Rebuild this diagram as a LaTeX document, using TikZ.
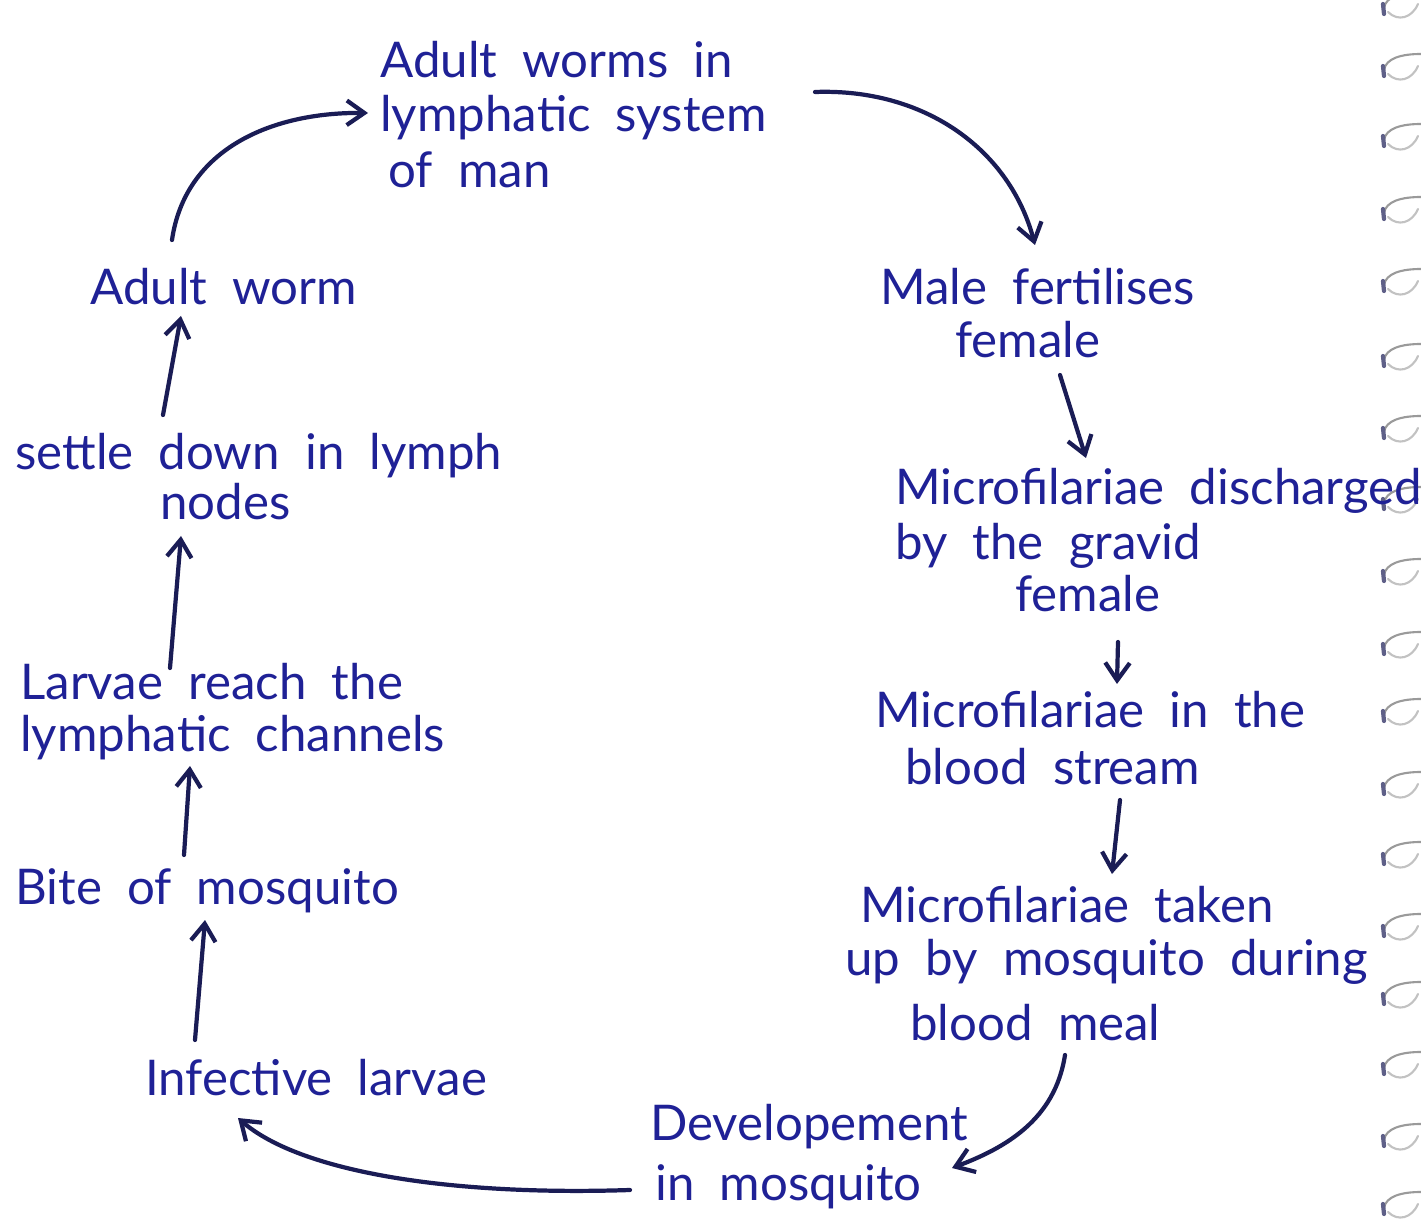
\documentclass[tikz,border=0pt]{standalone}
\usepackage{fontspec}
\setmainfont{Lato}[WordSpace=2]
\usetikzlibrary{arrows.meta}
\definecolor{ink}{HTML}{1F2196}
\definecolor{pen}{HTML}{1A1C55}
\definecolor{wire}{HTML}{9A9A9A}
\tikzset{
  lbl/.style={anchor=base west, inner sep=0pt, text=ink,
              font=\fontsize{28}{30}\selectfont},
  flow/.style={draw=pen, line width=2.4pt, line cap=round,
               -{Straight Barb[length=10pt,width=14pt,line width=2.4pt]}},
  loopmark/.style={draw=wire, line width=1.2pt, line cap=round}
}
\begin{document}
\begin{tikzpicture}[x=0.02cm,y=-0.02cm]
  \useasboundingbox[fill=white] (0,0) rectangle (1421,1229);

  % spiral binding along the right edge
  \foreach \yy in {8,70,140,213,285,360,432,503,575,648,715,788,858,930,998,1068,1140,1208}{
    \draw[loopmark] (1384,\yy) .. controls (1386,\yy-12) and (1402,\yy-16) .. (1421,\yy-16);
    \draw[loopmark, wire!60] (1388,\yy+4) .. controls (1398,\yy+14) and (1412,\yy+10) .. (1418,\yy-4);
    \draw[pen!70, line width=2.4pt, line cap=round] (1383,\yy-4) -- (1384,\yy+6);
  }

  % labels
  \node[lbl] (top1) at (380,78)  {Adult worms in};
  \node[lbl] (top2) at (380,132) {lymphatic system};
  \node[lbl] (top3) at (388,188) {of man};

  \node[lbl] (male1) at (880,305) {Male fertilises};
  \node[lbl] (male2) at (955,358) {female};

  \node[lbl] (dis1) at (895,505) {Microfilariae discharged};
  \node[lbl] (dis2) at (895,560) {by the gravid};
  \node[lbl] (dis3) at (1015,612) {female};

  \node[lbl] (blood1) at (875,728) {Microfilariae in the};
  \node[lbl] (blood2) at (905,785) {blood stream};

  \node[lbl] (take1) at (860,922)  {Microfilariae taken};
  \node[lbl] (take2) at (845,975)  {up by mosquito during};
  \node[lbl] (take3) at (910,1040) {blood meal};

  \node[lbl] (dev1) at (650,1140) {Developement};
  \node[lbl] (dev2) at (655,1200) {in mosquito};

  \node[lbl] (inf) at (145,1095) {Infective larvae};

  \node[lbl] (bite) at (15,905) {Bite of mosquito};

  \node[lbl] (lar1) at (20,700) {Larvae reach the};
  \node[lbl] (lar2) at (20,752) {lymphatic channels};

  \node[lbl] (set1) at (15,470)  {settle down in lymph};
  \node[lbl] (set2) at (160,520) {nodes};

  \node[lbl] (worm) at (90,305) {Adult worm};

  % connector end points
  \coordinate (wormOut) at (172,240);
  \coordinate (topIn)   at (368,113);
  \coordinate (topOut)  at (815,92);
  \coordinate (maleIn)  at (1035,245);
  \coordinate (maleOut) at (1060,375);
  \coordinate (disIn)   at (1086,458);
  \coordinate (disOut)  at (1118,642);
  \coordinate (bloodIn) at (1117,684);
  \coordinate (bloodOut) at (1120,800);
  \coordinate (takeIn)  at (1112,874);
  \coordinate (takeOut) at (1065,1055);
  \coordinate (devIn)   at (952,1168);
  \coordinate (devOut)  at (630,1190);
  \coordinate (infIn)   at (238,1118);
  \coordinate (infOut)  at (195,1040);
  \coordinate (biteIn)  at (205,920);
  \coordinate (biteOut) at (184,855);
  \coordinate (larIn)   at (190,766);
  \coordinate (larOut)  at (170,668);
  \coordinate (setIn)   at (181,536);
  \coordinate (setOut)  at (163,415);
  \coordinate (wormIn)  at (181,316);

  % cycle arrows
  \draw[flow] (wormOut) .. controls (185,150) and (270,112) .. (topIn);
  \draw[flow] (topOut) .. controls (925,88) and (1010,150) .. (maleIn);
  \draw[flow] (maleOut) -- (disIn);
  \draw[flow] (disOut) -- (bloodIn);
  \draw[flow] (bloodOut) -- (takeIn);
  \draw[flow] (takeOut) .. controls (1055,1120) and (1005,1148) .. (devIn);
  \draw[flow] (devOut) .. controls (450,1196) and (300,1172) .. (infIn);
  \draw[flow] (infOut) -- (biteIn);
  \draw[flow] (biteOut) -- (larIn);
  \draw[flow] (larOut) -- (setIn);
  \draw[flow] (setOut) -- (wormIn);
\end{tikzpicture}
\end{document}
